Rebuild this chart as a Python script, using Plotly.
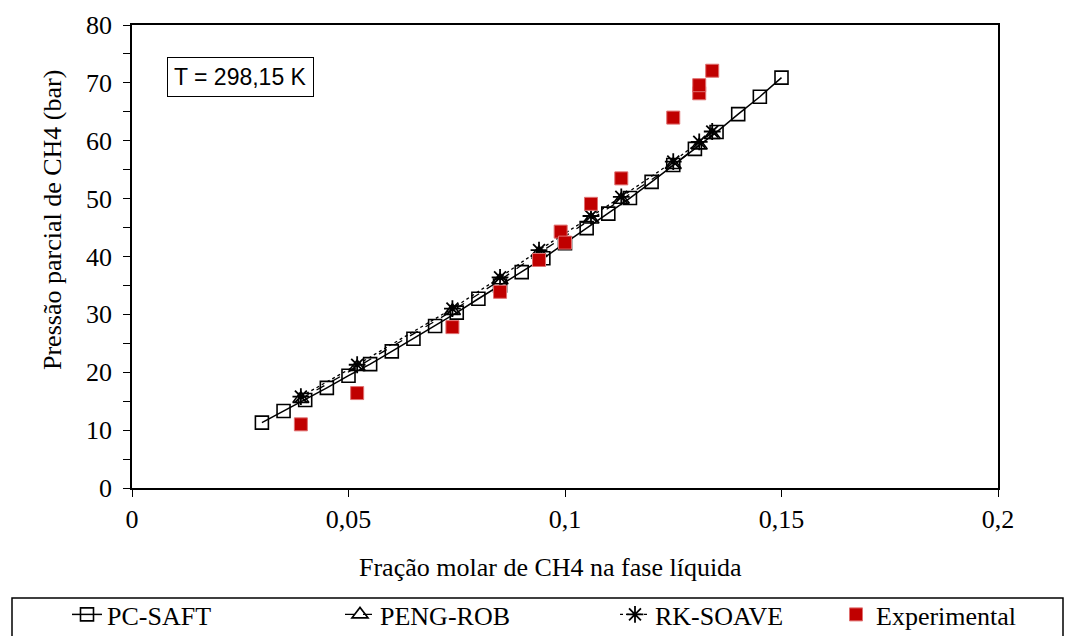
import plotly.graph_objects as go

# ---- data ----
pcsaft_x = [0.030, 0.035, 0.040, 0.045, 0.050, 0.055, 0.060, 0.065, 0.070, 0.075,
            0.080, 0.085, 0.090, 0.095, 0.100, 0.105, 0.110, 0.115, 0.120, 0.125,
            0.130, 0.135, 0.140, 0.145, 0.150]
pcsaft_y = [11.3, 13.3, 15.2, 17.3, 19.4, 21.4, 23.6, 25.8, 28.0, 30.3,
            32.7, 35.0, 37.3, 39.7, 42.3, 44.9, 47.4, 50.1, 52.9, 55.8,
            58.6, 61.5, 64.6, 67.6, 70.9]

model_x = [0.039, 0.052, 0.074, 0.085, 0.094, 0.106, 0.113, 0.125, 0.131, 0.134]
pengrob_y = [15.4, 20.9, 30.6, 35.9, 40.6, 46.4, 49.8, 55.8, 59.2, 61.0]
rksoave_y = [15.8, 21.3, 31.0, 36.4, 41.1, 47.0, 50.3, 56.4, 59.8, 61.6]

exp_x = [0.039, 0.052, 0.074, 0.085, 0.094, 0.099, 0.100, 0.106, 0.113, 0.125, 0.131, 0.131, 0.134]
exp_y = [11.0, 16.4, 27.8, 33.9, 39.4, 44.3, 42.4, 49.1, 53.5, 64.0, 68.2, 69.6, 72.1]

x_tickvals = [0, 0.05, 0.1, 0.15, 0.2]
y_tickvals = [0, 10, 20, 30, 40, 50, 60, 70, 80]

serif = "Liberation Serif, Times New Roman, serif"

L, R, T, B = 132, 78, 25, 148
W, H = 1076, 636
pw, ph = W - L - R, H - T - B


def px_x(p):
    return (p - L) / pw


def px_y(p):
    return (H - B - p) / ph


fig = go.Figure()
fig.add_trace(go.Scatter(
    x=pcsaft_x, y=pcsaft_y, name="PC-SAFT", mode="lines+markers", legend="legend",
    line=dict(color="black", width=1.5),
    marker=dict(symbol="square-open", size=13, color="black", line=dict(width=1.6, color="black")),
))
fig.add_trace(go.Scatter(
    x=model_x, y=pengrob_y, name="PENG-ROB", mode="lines+markers", legend="legend2",
    line=dict(color="black", width=1.3, dash="dash"),
    marker=dict(symbol="triangle-up-open", size=14, color="black", line=dict(width=1.6, color="black")),
))
fig.add_trace(go.Scatter(
    x=model_x, y=rksoave_y, name="RK-SOAVE", mode="lines+markers", legend="legend3",
    line=dict(color="black", width=1.3, dash="dot"),
    marker=dict(symbol="asterisk-open", size=14, color="black", line=dict(width=1.8, color="black")),
))
fig.add_trace(go.Scatter(
    x=exp_x, y=exp_y, name="Experimental", mode="markers", legend="legend4",
    marker=dict(symbol="square", size=13, color="#C00000", line=dict(width=1, color="#E07070")),
))


def leg(xpix):
    return dict(
        orientation="h", x=px_x(xpix), y=px_y(591), xanchor="left", yanchor="top",
        bgcolor="rgba(0,0,0,0)", borderwidth=0,
        font=dict(family=serif, size=26, color="black"),
    )


fig.update_layout(
    width=W, height=H,
    margin=dict(l=L, r=R, t=T, b=B, autoexpand=False),
    paper_bgcolor="white", plot_bgcolor="white",
    font=dict(family=serif, color="black", size=26),
    separators=", ",
    showlegend=True,
    legend=leg(67), legend2=leg(340), legend3=leg(615), legend4=leg(836),
    xaxis=dict(
        range=[0, 0.2], tickvals=x_tickvals, showgrid=False, zeroline=False,
        showline=True, linecolor="black", linewidth=1.5, mirror=True,
        ticks="outside", ticklen=7, tickwidth=1.3, tickcolor="black",
        tickfont=dict(family=serif, size=26, color="black"),
    ),
    yaxis=dict(
        range=[0, 80], tickvals=y_tickvals, showgrid=False, zeroline=False,
        showline=True, linecolor="black", linewidth=1.5, mirror=True,
        ticks="outside", ticklen=7, tickwidth=1.3, tickcolor="black",
        ticklabelstandoff=6,
        tickfont=dict(family=serif, size=26, color="black"),
        minor=dict(dtick=5, ticks="outside", ticklen=7, tickwidth=1.3, tickcolor="black", showgrid=False),
    ),
    shapes=[dict(
        type="rect", xref="paper", yref="paper",
        x0=px_x(12), x1=px_x(1063), y0=px_y(640), y1=px_y(598),
        line=dict(color="black", width=1.5), fillcolor="rgba(0,0,0,0)", layer="above",
    )],
    annotations=[
        dict(text="T = 298,15 K", xref="paper", yref="paper",
             x=px_x(240.5), y=px_y(77.5), xanchor="center", yanchor="middle",
             showarrow=False, font=dict(family="Liberation Sans", size=23, color="black"),
             bordercolor="black", borderwidth=1, borderpad=6, bgcolor="white"),
        dict(text="Fração molar de CH4 na fase líquida", xref="paper", yref="paper",
             x=px_x(550), y=px_y(567), xanchor="center", yanchor="middle",
             showarrow=False, font=dict(family=serif, size=26, color="black")),
        dict(text="Pressão parcial de CH4 (bar)", xref="paper", yref="paper",
             x=px_x(52), y=px_y(220), xanchor="center", yanchor="middle", textangle=-90,
             showarrow=False, font=dict(family=serif, size=26, color="black")),
    ],
)

fig.write_html("out.html")
